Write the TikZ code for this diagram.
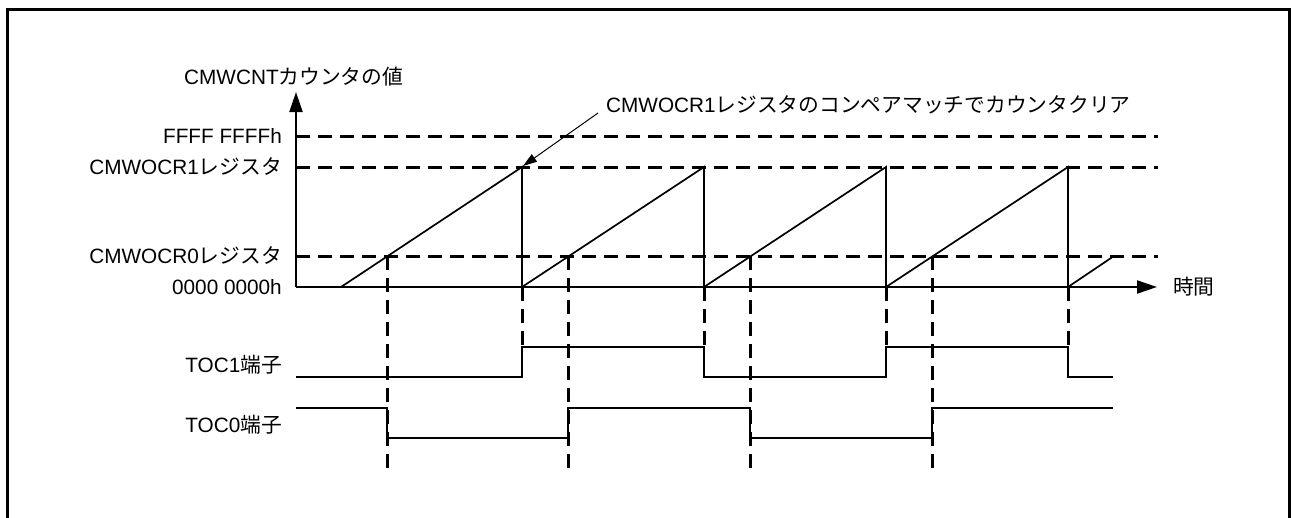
\documentclass[tikz,border=0pt]{standalone}
\usepackage{fontspec}
\setmainfont{Liberation Sans}
\newfontfamily\jp{Noto Sans CJK JP}
\usetikzlibrary{arrows.meta}
\newcommand{\J}[1]{{\jp #1}}
\begin{document}
\begin{tikzpicture}[x=1pt,y=-1pt,
  lbl/.style={anchor=east,inner sep=0pt,font=\fontsize{20.75}{24}\selectfont},
  txt/.style={anchor=west,inner sep=0pt,font=\fontsize{20.75}{24}\selectfont},
  frame/.style={line width=3pt},
  axis/.style={line width=2pt,-{Triangle[length=20pt,width=13pt]}},
  lvl/.style={line width=3pt,dash pattern=on 14pt off 8pt},
  guide/.style={line width=3pt,dash pattern=on 14pt off 8pt},
  sig/.style={line width=1.8pt},
  ramp/.style={line width=1.7pt},
  leader/.style={line width=1pt,-{Triangle[length=14pt,width=9pt]}}]
\useasboundingbox (0,0) rectangle (1291,517);
\begin{scope}
\clip (0,0) rectangle (1291,517);
\draw[frame] (7.5,525) -- (7.5,9.5) -- (1289.5,9.5) -- (1289.5,525);
\end{scope}
% coordinates
\coordinate (O) at (296,287);
\coordinate (Ytip) at (296,92);
\coordinate (Xtip) at (1157,287);
% labels
\node[txt] (ylab) at (184,77) {CMWCNT\J{カウンタの値}};
\node[lbl] (lF) at (282,136) {FFFF FFFFh};
\node[lbl] (l1) at (282,167) {CMWOCR1\J{レジスタ}};
\node[lbl] (l0) at (282,256) {CMWOCR0\J{レジスタ}};
\node[lbl] (lz) at (282,287) {0000 0000h};
\node[lbl] (t1) at (282,365) {TOC1\J{端子}};
\node[lbl] (t0) at (282,425) {TOC0\J{端子}};
\node[txt] (tlab) at (1173,287) {\J{時間}};
\node[txt] (ann) at (606,105) {CMWOCR1\J{レジスタのコンペアマッチでカウンタクリア}};
% level lines
\draw[lvl] (296,136) -- (1158,136);
\draw[lvl] (296,167) -- (1158,167);
\draw[lvl] (296,256) -- (1158,256);
% axes
\draw[axis] (O) -- (Ytip);
\draw[axis] (O) -- (Xtip);
% ramps
\foreach \a/\b in {341/522,522/704,704/886,886/1068}{
  \draw[ramp] (\a,287) -- (\b,167) -- (\b,287);
}
\draw[ramp] (1068,287) -- (1114,256);
% guides at compare match 1
\foreach \x in {522,704,886,1068}{
  \draw[guide] (\x,287) -- (\x,347);
}
% guides at compare match 0
\foreach \x in {387,568,750,932}{
  \draw[guide] (\x,256) -- (\x,469);
}
% TOC1
\draw[sig] (296,377) -- (522,377) -- (522,347) -- (704,347) -- (704,377) -- (886,377) -- (886,347) -- (1068,347) -- (1068,377) -- (1113,377);
% TOC0
\draw[sig] (296,408) -- (387,408) -- (387,438) -- (568,438) -- (568,408) -- (750,408) -- (750,438) -- (932,438) -- (932,408) -- (1113,408);
% annotation leader
\coordinate (annfoot) at (598,113);
\coordinate (match) at (523,166);
\draw[leader] (annfoot) -- (match);
\end{tikzpicture}
\end{document}
